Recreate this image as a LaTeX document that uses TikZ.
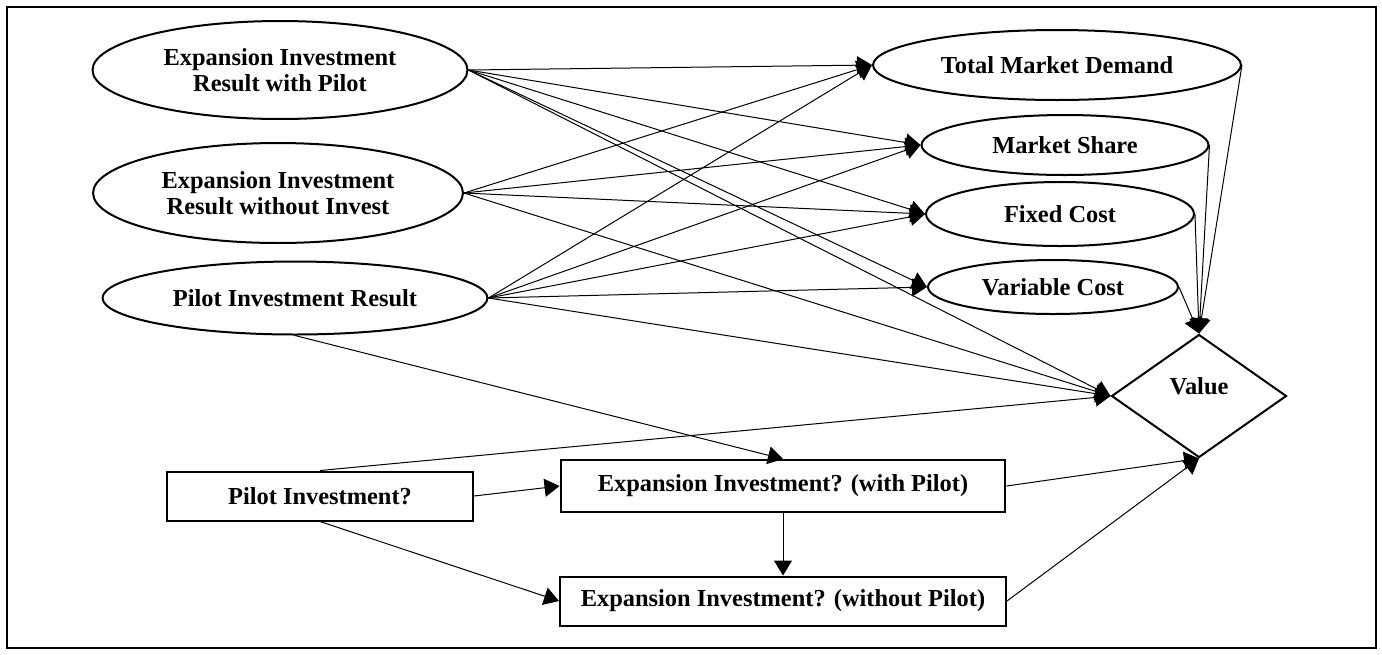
\documentclass[tikz,border=0pt]{standalone}
\usepackage{fontspec}
\setmainfont{Liberation Serif}
\usetikzlibrary{shapes.geometric}
\usetikzlibrary{arrows.meta}

\tikzset{
  chance/.style={ellipse, draw, line width=0.04cm, inner sep=0pt, align=center},
  decision/.style={rectangle, draw, line width=0.04cm, inner sep=0pt},
  valuenode/.style={diamond, draw, line width=0.04cm, inner sep=0pt},
  infl/.style={line width=0.02cm, -{Triangle[length=0.3cm,width=0.36cm]}}
}

\begin{document}
\begin{tikzpicture}[x=0.02cm, y=-0.02cm, font=\fontsize{13.9}{14.8}\selectfont\bfseries]

        \useasboundingbox (0,0) rectangle (1382,654);
        \draw[line width=0.04cm] (7,7) rectangle (1376,648);

        % chance nodes, left column
        \node[chance, minimum width=7.5cm, minimum height=1.96cm] (exppilot) at (280,70) {Expansion Investment\\Result with Pilot};
        \node[chance, minimum width=7.4cm, minimum height=2cm] (expnopilot) at (278,193) {Expansion Investment\\Result without Invest};
        \node[chance, minimum width=7.7cm, minimum height=1.46cm] (pilotres) at (295,298) {Pilot Investment Result};

        % chance nodes, right column
        \node[chance, minimum width=7.36cm, minimum height=1.4cm] (demand) at (1057,65) {Total Market Demand};
        \node[chance, minimum width=5.74cm, minimum height=1.2cm] (share) at (1065,145) {Market Share};
        \node[chance, minimum width=5.36cm, minimum height=1.28cm] (fixcost) at (1060,214) {Fixed Cost};
        \node[chance, minimum width=5cm, minimum height=1.08cm] (varcost) at (1053,287) {Variable Cost};

        % value node
        \node[valuenode, minimum width=3.5cm, minimum height=2.46cm, text depth=0.4cm] (value) at (1199,396) {Value};

        % decisions
        \node[decision, minimum width=6.12cm, minimum height=0.98cm] (pilotdec) at (320,496) {Pilot Investment?};
        \node[decision, minimum width=8.9cm, minimum height=1.04cm] (expdecp) at (783,486) {Expansion Investment? (with Pilot)};
        \node[decision, minimum width=8.92cm, minimum height=0.98cm] (expdecnp) at (783,601) {Expansion Investment? (without Pilot)};

        % influences
        \foreach \t in {demand,share,fixcost,varcost}
            \draw[infl] (exppilot.east) -- (\t.west);
        \draw[infl] (exppilot.east) -- (value.west);

        \foreach \t in {demand,share,fixcost}
            \draw[infl] (expnopilot.east) -- (\t.west);
        \draw[infl] (expnopilot.east) -- (value.west);

        \foreach \t in {demand,share,fixcost,varcost}
            \draw[infl] (pilotres.east) -- (\t.west);
        \draw[infl] (pilotres.east) -- (value.west);
        \draw[infl] (pilotres.south) -- (expdecp.north);

        \foreach \t in {demand,share,fixcost,varcost}
            \draw[infl] (\t.east) -- (value.north);

        \draw[infl] (pilotdec.north) -- (value.west);
        \draw[infl] (pilotdec.east) -- (expdecp.west);
        \draw[infl] (pilotdec.south) -- (expdecnp.west);
        \draw[infl] (expdecp.south) -- (expdecnp.north);
        \draw[infl] (expdecp.east) -- (value.south);
        \draw[infl] (expdecnp.east) -- (value.south);

\end{tikzpicture}
\end{document}
